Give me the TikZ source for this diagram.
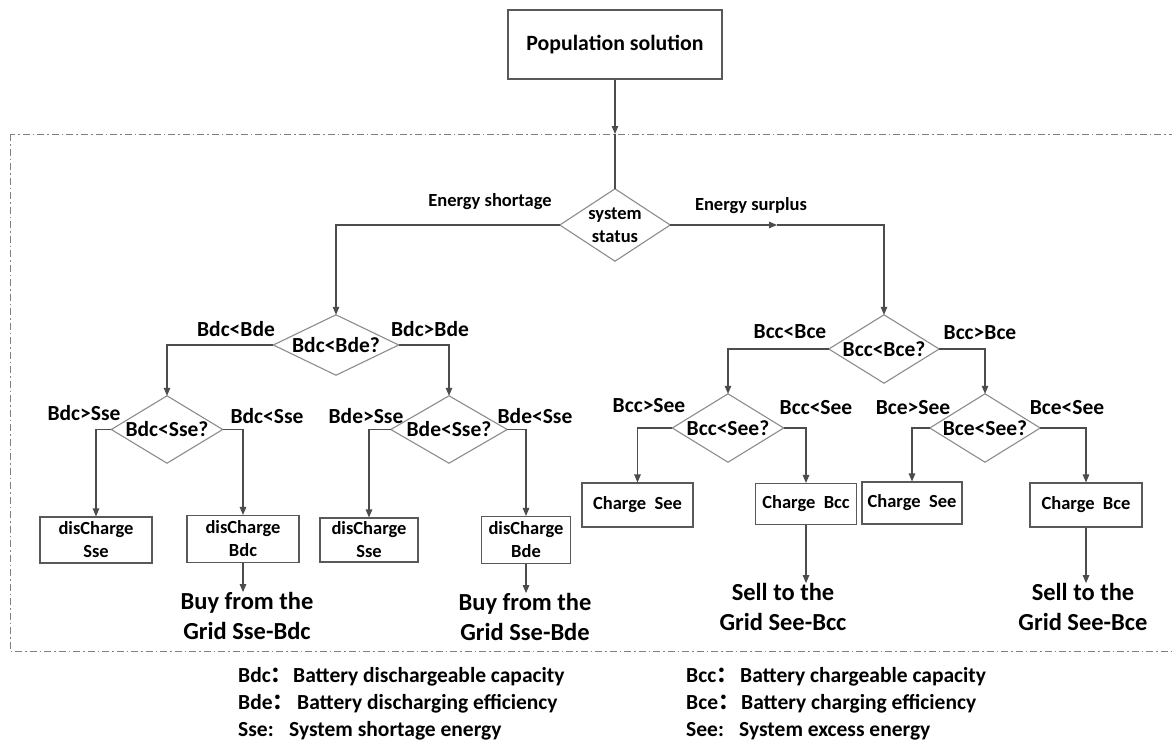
\documentclass[tikz,border=0pt]{standalone}
\usepackage{fontspec}
\setmainfont{Carlito}
\newfontfamily\cjk{Noto Sans CJK SC}
\usetikzlibrary{arrows.meta}
\tikzset{
  conn/.style={draw=black!70, line width=1.1pt},
  arr/.style={conn, -{Triangle[length=8pt,width=6.5pt]}},
  boxn/.style={draw=black!65, line width=1.1pt, inner sep=0pt, align=center,
     font=\fontsize{18.5}{23}\selectfont\bfseries},
  dtext/.style={inner sep=0pt, align=center, font=\fontsize{21.5}{23}\selectfont\bfseries},
  dline/.style={draw=black!45, line width=1.1pt},
  lab/.style={inner sep=0pt, font=\fontsize{21.5}{26}\selectfont\bfseries},
  small/.style={inner sep=0pt, align=center, font=\fontsize{18.5}{23}\selectfont\bfseries},
  big/.style={inner sep=0pt, align=center, font=\fontsize{24.5}{30}\selectfont\bfseries},
  leg/.style={inner sep=0pt, anchor=base west, font=\fontsize{21.5}{26}\selectfont\bfseries},
}
\newcommand{\diam}[1]{\draw[dline] (#1.north) -- (#1.east) -- (#1.south) -- (#1.west) -- cycle;}
\begin{document}
\begin{tikzpicture}[x=1pt,y=-1pt]
\useasboundingbox (0,0) rectangle (1172,745);
\fill[white] (0,0) rectangle (1172,745);
% dashed frame
\draw[black!50, line width=1pt, dash pattern=on 7pt off 3pt on 1.5pt off 3pt] (10,134) rectangle (1185,651);

% top box
\node[boxn, minimum width=214pt, minimum height=69pt, font=\fontsize{21.8}{26}\selectfont\bfseries] (pop) at (615,44.5) {Population solution};
\coordinate (ent) at (615,134);

% diamonds
\node[dtext, font=\fontsize{18.5}{23}\selectfont\bfseries, minimum width=110pt, minimum height=72pt] (ss) at (615,225) {system\\status};
\node[dtext, minimum width=125pt, minimum height=60pt] (d1) at (336,345) {Bdc<Bde?};
\node[dtext, minimum width=111pt, minimum height=67pt] (d2) at (167,429.5) {Bdc<Sse?};
\node[dtext, minimum width=116pt, minimum height=67pt] (d3) at (449,429.5) {Bde<Sse?};
\node[dtext, minimum width=110pt, minimum height=68pt] (d4) at (884,349) {Bcc<Bce?};
\node[dtext, minimum width=111pt, minimum height=68pt] (d5) at (728,428) {Bcc<See?};
\node[dtext, minimum width=110pt, minimum height=68pt] (d6) at (985,428) {Bce<See?};
\diam{ss}\diam{d1}\diam{d2}\diam{d3}\diam{d4}\diam{d5}\diam{d6}

% boxes
\node[boxn, minimum width=112pt, minimum height=46pt] (b1) at (96,540) {disCharge\\Sse};
\node[boxn, minimum width=112pt, minimum height=47pt] (b2) at (243,539) {disCharge\\Bdc};
\node[boxn, minimum width=98pt, minimum height=44pt] (b3) at (369,540) {disCharge\\Sse};
\node[boxn, minimum width=89pt, minimum height=47pt] (b4) at (526,540) {disCharge\\Bde};
\node[boxn, minimum width=111pt, minimum height=44pt] (c1) at (637.5,505) {Charge\hspace{0.45em}See};
\node[boxn, minimum width=101pt, minimum height=41pt] (c2) at (806,504) {Charge\hspace{0.45em}Bcc};
\node[boxn, minimum width=100pt, minimum height=42pt] (c3) at (912,503) {Charge\hspace{0.45em}See};
\node[boxn, minimum width=112pt, minimum height=44pt] (c4) at (1086,505) {Charge\hspace{0.45em}Bce};

% outcome texts
\node[big] (g1) at (247,616) {Buy from the\\Grid Sse-Bdc};
\node[big] (g2) at (525,617) {Buy from the\\Grid Sse-Bde};
\node[big] (g3) at (783,607) {Sell to the\\Grid See-Bcc};
\node[big] (g4) at (1083,607) {Sell to the\\Grid See-Bce};

% connectors
\draw[arr] (pop.south) -- (ent);
\draw[conn] (ent) -- (ss.north);
\draw[arr] (ss.west) -| (d1.north);
\coordinate (surp) at (777,225);
\draw[arr] (ss.east) -- (surp);
\draw[arr] (surp) -| (d4.north);

\draw[arr] (d1.west) -| (d2.north);
\draw[arr] (d1.east) -| (d3.north);
\draw[arr] (d2.west) -| (b1.north);
\draw[arr] (d2.east) -| (b2.north);
\draw[arr] (d3.west) -| (b3.north);
\draw[arr] (d3.east) -| (b4.north);
\draw[arr] (d4.west) -| (d5.north);
\draw[arr] (d4.east) -| (d6.north);
\draw[arr] (d5.west) -| (c1.north);
\draw[arr] (d5.east) -| (c2.north);
\draw[arr] (d6.west) -| (c3.north);
\draw[arr] (d6.east) -| (c4.north);

\draw[arr] (b2.south) -- (b2.south |- g1.north);
\draw[arr] (b4.south) -- (b4.south |- g2.north);
\draw[arr] (c2.south) -- (c2.south |- g3.north);
\draw[arr] (c4.south) -- (c4.south |- g4.north);

% branch labels
\node[small] (les) at (490,202) {Energy shortage};
\node[small] (lsu) at (751,206) {Energy surplus};
\node[lab] (l1) at (236,329) {Bdc<Bde};
\node[lab] (l2) at (430,329) {Bdc>Bde};
\node[lab] (l3) at (84,413) {Bdc>Sse};
\node[lab] (l4) at (267,416) {Bdc<Sse};
\node[lab] (l5) at (366,416) {Bde>Sse};
\node[lab] (l6) at (535,416) {Bde<Sse};
\node[lab] (l7) at (790,332) {Bcc<Bce};
\node[lab] (l8) at (980,333) {Bcc>Bce};
\node[lab] (l9) at (649,406) {Bcc>See};
\node[lab] (l10) at (816,408) {Bcc<See};
\node[lab] (l11) at (913,408) {Bce>See};
\node[lab] (l12) at (1067,408) {Bce<See};

% legend
\node[leg] (k1) at (238,682) {Bdc{\cjk ：}};
\node[leg] (t1) at (293,682) {Battery dischargeable capacity};
\node[leg] (k2) at (238,709) {Bde{\cjk ：}};
\node[leg] (t2) at (297,709) {Battery discharging efficiency};
\node[leg] (k3) at (238,736) {Sse:};
\node[leg] (t3) at (289,736) {System shortage energy};
\node[leg] (k4) at (686,682) {Bcc{\cjk ：}};
\node[leg] (t4) at (740,682) {Battery chargeable capacity};
\node[leg] (k5) at (686,709) {Bce{\cjk ：}};
\node[leg] (t5) at (741,709) {Battery charging efficiency};
\node[leg] (k6) at (686,736) {See:};
\node[leg] (t6) at (739,736) {System excess energy};
\end{tikzpicture}
\end{document}
